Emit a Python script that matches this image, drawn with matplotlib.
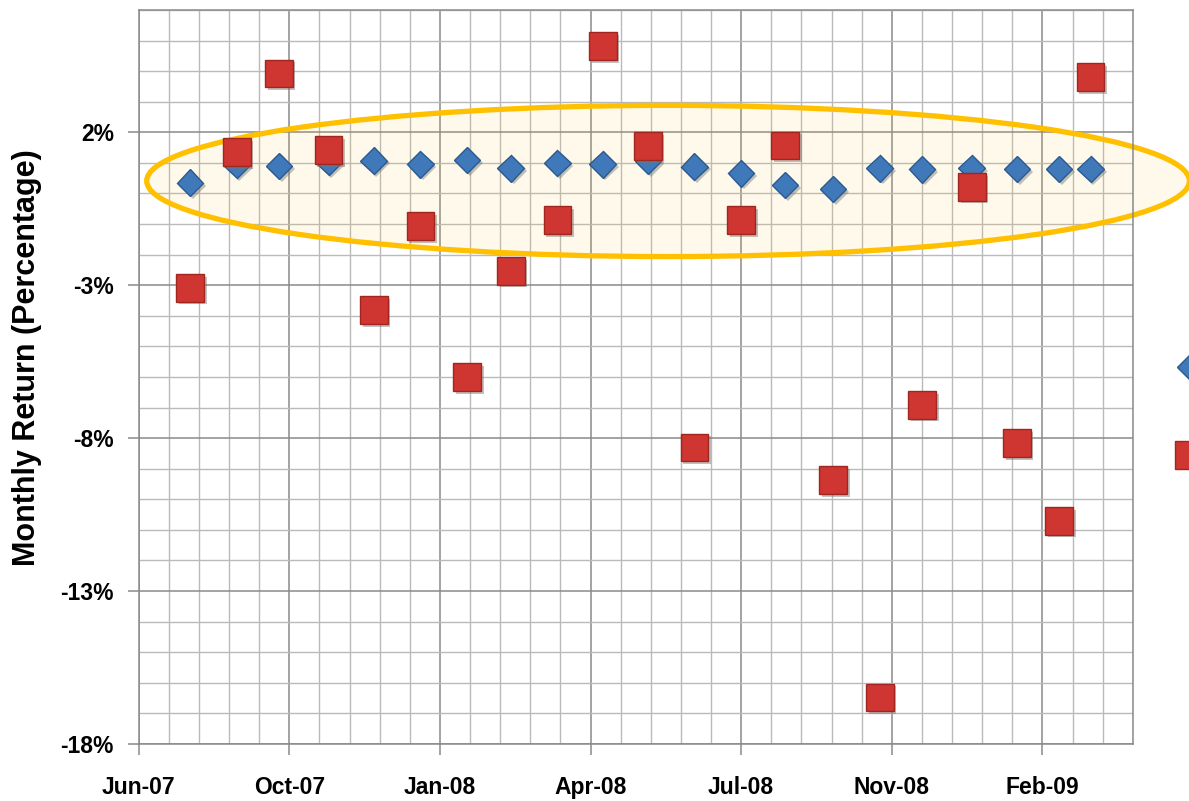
import matplotlib.pyplot as plt
import matplotlib.dates as mdates
import matplotlib.patheffects as pe
from matplotlib.patches import Ellipse
from matplotlib.lines import Line2D
from matplotlib.ticker import FixedLocator, MultipleLocator, FuncFormatter
import pandas as pd

# aylik getiri verileri (ay sonu is gunleri)
dates = pd.to_datetime([
    "2007-07-31", "2007-08-31", "2007-09-28", "2007-10-31", "2007-11-30", "2007-12-31",
    "2008-01-31", "2008-02-29", "2008-03-31", "2008-04-30", "2008-05-30", "2008-06-30",
    "2008-07-31", "2008-08-29", "2008-09-30", "2008-10-31", "2008-11-28", "2008-12-31",
    "2009-01-30", "2009-02-27", "2009-03-20",
])
blue_returns = [0.35, 0.93, 0.90, 1.03, 1.07, 0.95, 1.09, 0.82, 0.99, 0.95, 1.06,
                0.88, 0.66, 0.28, 0.15, 0.82, 0.79, 0.83, 0.80, 0.80, 0.80]
red_returns = [-3.08, 1.36, 3.92, 1.42, -3.82, -1.06, -6.00, -2.53, -0.87, 4.82, 1.55,
               -8.31, -0.87, 1.57, -9.38, -16.48, -6.91, 0.22, -8.17, -10.70, 3.81]
y_ticks = [-18, -13, -8, -3, 2]

# x ekseni: 20 gunluk ara, 100 gunluk ana cizgiler
x_start = pd.Timestamp("2007-06-27")
x_end = x_start + pd.Timedelta(days=660)
major_x = [mdates.date2num(x_start + pd.Timedelta(days=100 * k)) for k in range(7)]
minor_x = [mdates.date2num(x_start + pd.Timedelta(days=20 * k)) for k in range(34)]

plt.rcParams['font.family'] = ['Liberation Sans', 'DejaVu Sans']
plt.rcParams['font.weight'] = 'bold'
plt.rcParams['axes.labelweight'] = 'bold'

fig = plt.figure(figsize=(11.89, 8.01), dpi=100)
ax = fig.add_axes([0.1167, 0.0712, 0.836, 0.9164])

shadow = [pe.SimplePatchShadow(offset=(2, -2), shadow_rgbFace='#777777', alpha=0.45), pe.Normal()]

ax.plot(dates, blue_returns, linestyle='none', marker='D', markersize=13.5,
        markerfacecolor='#3F79BA', markeredgecolor='#2A5A90', markeredgewidth=1.0,
        zorder=3, path_effects=shadow)
ax.plot(dates, red_returns, linestyle='none', marker='s', markersize=20,
        markerfacecolor='#CF3631', markeredgecolor='#A02620', markeredgewidth=1.0,
        zorder=4, path_effects=shadow)

# vurgu elipsi
ell = Ellipse((0.5325, 0.767), 1.049, 0.206, transform=ax.transAxes,
              facecolor=(1.0, 0.75, 0.0, 0.08), edgecolor='#FFC000', linewidth=3.8,
              clip_on=False, zorder=2)
ax.add_patch(ell)

ax.set_xlim(mdates.date2num(x_start), mdates.date2num(x_end))
ax.set_ylim(-18, 6)

ax.xaxis.set_major_locator(FixedLocator(major_x))
ax.xaxis.set_minor_locator(FixedLocator(minor_x))
ax.xaxis.set_major_formatter(mdates.DateFormatter('%b-%y'))
ax.yaxis.set_major_locator(FixedLocator(y_ticks))
ax.yaxis.set_minor_locator(MultipleLocator(1))
ax.yaxis.set_major_formatter(FuncFormatter(lambda v, p: f"{v:.0f}%"))

ax.set_axisbelow(True)
ax.grid(which='major', color='#8a8a8a', linewidth=1.1)
ax.grid(which='minor', color='#bababa', linewidth=1.0)

ax.tick_params(which='major', length=8, width=1.1, color='#8a8a8a', direction='out',
               labelsize=16.5, pad=10)
ax.tick_params(axis='x', which='major', pad=15)
ax.tick_params(which='minor', length=0)

for s in ax.spines.values():
    s.set_color('#8a8a8a')
    s.set_linewidth(1.1)

ax.set_ylabel("Monthly Return (Percentage)", fontsize=22)
ax.yaxis.set_label_coords(-0.097, 0.526)

# kesilmis lejant isaretleri (sag kenar)
fig.add_artist(Line2D([1.0008], [0.5418], transform=fig.transFigure, marker='D',
                      markersize=13.5, markerfacecolor='#3F79BA', markeredgecolor='#2A5A90',
                      linestyle='none'))
fig.add_artist(Line2D([0.9996], [0.432], transform=fig.transFigure, marker='s',
                      markersize=20, markerfacecolor='#CF3631', markeredgecolor='#A02620',
                      linestyle='none'))

fig.savefig("out.png", dpi=100)
